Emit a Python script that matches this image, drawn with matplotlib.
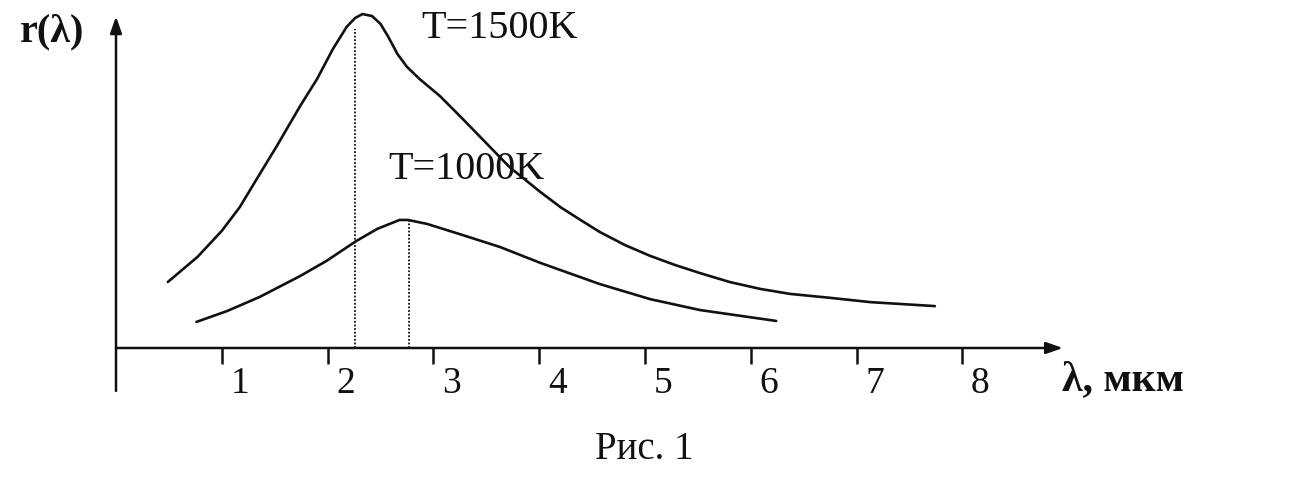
import matplotlib
matplotlib.use("Agg")
import matplotlib.pyplot as plt

# ---- data (wavelength in мкм, r in arbitrary units) ----
lam_1500 = [0.49, 0.77, 1.00, 1.17, 1.33, 1.52, 1.74, 1.90, 2.05, 2.18, 2.26, 2.33,
            2.42, 2.50, 2.57, 2.66, 2.75, 2.87, 3.06, 3.25, 3.49, 3.72, 4.01, 4.20,
            4.39, 4.57, 4.81, 5.05, 5.28, 5.52, 5.80, 6.09, 6.37, 6.75, 7.13, 7.74]
r_1500 = [2.00, 2.76, 3.55, 4.27, 5.12, 6.12, 7.33, 8.15, 9.06, 9.73, 10.00, 10.12,
          10.06, 9.82, 9.45, 8.91, 8.52, 8.15, 7.64, 7.03, 6.24, 5.48, 4.73, 4.27,
          3.88, 3.52, 3.12, 2.79, 2.52, 2.27, 2.00, 1.79, 1.64, 1.52, 1.39, 1.27]

lam_1000 = [0.76, 1.05, 1.36, 1.74, 1.99, 2.27, 2.47, 2.68, 2.76, 2.94, 3.25, 3.63,
            4.01, 4.57, 5.05, 5.52, 6.24]
r_1000 = [0.79, 1.12, 1.55, 2.18, 2.64, 3.24, 3.61, 3.88, 3.88, 3.76, 3.45, 3.06,
          2.58, 1.94, 1.48, 1.15, 0.82]

peak_lam = [2.26, 2.77]
peak_r = [9.67, 3.88]

tick_values = [1, 2, 3, 4, 5, 6, 7, 8]
tick_labels = ["1", "2", "3", "4", "5", "6", "7", "8"]

# ---- figure ----
W, H = 1303, 481
fig = plt.figure(figsize=(W / 100, H / 100), dpi=100)
ax = fig.add_axes([0, 0, 1, 1])
x0px, sx = 116, 105.8
y0px, sy = 349, 33.0
ax.set_xlim(-x0px / sx, (W - x0px) / sx)
ax.set_ylim((y0px - H) / sy, y0px / sy)
ax.axis("off")

serif = ["Liberation Serif", "DejaVu Serif"]
ink = "#111111"

# axes with arrows
ax.annotate("", xy=(8.95, 0.0), xytext=(0.0, 0.0),
            arrowprops=dict(arrowstyle="-|>,head_length=1.0,head_width=0.35",
                            color=ink, lw=1.8, shrinkA=0, shrinkB=0))
ax.annotate("", xy=(0.0, 10.05), xytext=(0.0, -1.3),
            arrowprops=dict(arrowstyle="-|>,head_length=1.0,head_width=0.35",
                            color=ink, lw=1.8, shrinkA=0, shrinkB=0))

# ticks (downward) and labels
ax.vlines(tick_values, -0.48, 0.0, color=ink, lw=1.8)
for v, lab in zip(tick_values, tick_labels):
    ax.text(v + 0.17, -1.05, lab, family=serif, fontsize=27, color=ink,
            ha="center", va="center")

# curves
ax.plot(lam_1500, r_1500, color=ink, lw=1.9, solid_capstyle="round", solid_joinstyle="round")
ax.plot(lam_1000, r_1000, color=ink, lw=1.9, solid_capstyle="round", solid_joinstyle="round")

# dotted peak lines
for lx, ly in zip(peak_lam, peak_r):
    ax.plot([lx, lx], [0, ly], color=ink, lw=1.3, linestyle=(0, (1, 1)))

# labels
ax.text(2.89, 9.72, "T=1500K", family=serif, fontsize=29, color=ink, ha="left", va="center")
ax.text(2.57, 5.45, "T=1000K", family=serif, fontsize=29, color=ink, ha="left", va="center")
ax.text(-0.60, 9.62, "r(λ)", family=serif, fontsize=29, fontweight="bold", color=ink,
        ha="center", va="center")
ax.text(8.94, -0.94, "λ, мкм", family=serif, fontsize=30, fontweight="bold", color=ink,
        ha="left", va="center")
ax.text(4.99, -3.06, "Рис. 1", family=serif, fontsize=28, color=ink, ha="center", va="center")

fig.savefig("out.png", dpi=100, facecolor="white")
